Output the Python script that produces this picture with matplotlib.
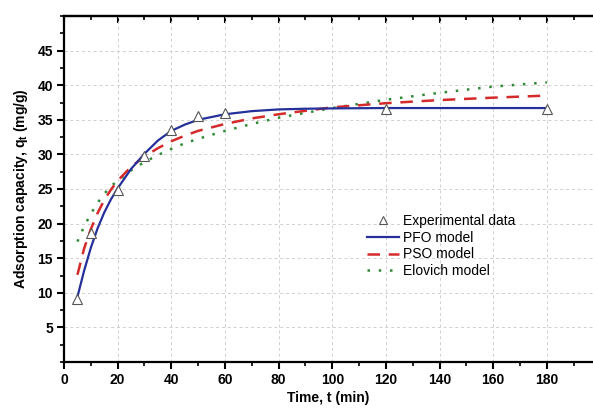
import matplotlib
matplotlib.use("Agg")
import matplotlib.pyplot as plt
from matplotlib.ticker import MultipleLocator, FixedLocator

# ---- data ----
t_exp = [5, 10, 20, 30, 40, 50, 60, 120, 180]
q_exp = [9.1, 18.6, 24.8, 29.8, 33.5, 35.5, 36.0, 36.6, 36.6]

t_model = [5, 7.5, 10, 12.5, 15, 17.5, 20, 25, 30, 35, 40, 45, 50, 60, 70, 80,
           90, 100, 120, 140, 160, 180]
q_pfo = [9.4, 13.2, 16.5, 19.3, 21.6, 23.5, 25.1, 27.9, 30.1, 32.0, 33.4, 34.3,
         35.0, 35.8, 36.25, 36.5, 36.6, 36.65, 36.7, 36.7, 36.7, 36.7]
q_pso = [12.6, 16.4, 19.2, 21.5, 23.4, 24.9, 26.2, 28.2, 29.7, 30.9, 31.9, 32.7,
         33.4, 34.4, 35.2, 35.8, 36.3, 36.8, 37.4, 37.85, 38.2, 38.5]
q_elo = [17.4, 19.6, 21.4, 23.0, 24.3, 25.4, 26.2, 27.7, 28.9, 29.9, 30.8, 31.6,
         32.25, 33.4, 34.4, 35.3, 36.0, 36.7, 37.9, 38.9, 39.8, 40.4]

labels = ["Experimental data", "PFO model", "PSO model", "Elovich model"]
x_major = [0, 20, 40, 60, 80, 100, 120, 140, 160, 180]
y_major = [5, 10, 15, 20, 25, 30, 35, 40, 45]

plt.rcParams['font.family'] = ['Liberation Sans', 'DejaVu Sans']
plt.rcParams['mathtext.fontset'] = 'custom'
plt.rcParams['mathtext.rm'] = 'Liberation Sans:bold'
plt.rcParams['mathtext.it'] = 'Liberation Sans:bold'
plt.rcParams['mathtext.bf'] = 'Liberation Sans:bold'

fig = plt.figure(figsize=(5.93, 4.08), dpi=100)
ax = fig.add_axes([64/593, 46/408, 1 - 64/593, (362-16)/408])

ax.plot(t_exp, q_exp, linestyle='none', marker='^', markersize=7,
        markerfacecolor='white', markeredgecolor='#555555', markeredgewidth=0.8,
        label=labels[0], zorder=5)
ax.plot(t_model, q_pfo, color='#25309a', lw=1.6, label=labels[1], zorder=4)
ax.plot(t_model, q_pso, color='#d42a2a', lw=1.8, linestyle=(0, (5, 3.5)),
        label=labels[2], zorder=3)
ax.plot(t_model, q_elo, color='#2f8a36', lw=1.8, linestyle=(0, (1, 3.5)),
        label=labels[3], zorder=2)

ax.set_xlim(0, 197.2)
ax.set_ylim(0, 50)
ax.xaxis.set_major_locator(FixedLocator(x_major))
ax.xaxis.set_minor_locator(MultipleLocator(10))
ax.yaxis.set_major_locator(FixedLocator(y_major))
ax.yaxis.set_minor_locator(MultipleLocator(2.5))

ax.grid(True, which='major', color='#cfcfcf', linestyle=(0, (3, 3)), lw=0.7)
ax.set_axisbelow(True)

for s in ['left', 'bottom', 'top']:
    ax.spines[s].set_linewidth(1.6)
ax.spines['right'].set_visible(False)

ax.tick_params(axis='both', which='major', direction='out', length=5, width=1.5,
               labelsize=10, pad=3)
ax.tick_params(axis='both', which='minor', direction='out', length=3, width=1.2)
for lab in ax.get_xticklabels() + ax.get_yticklabels():
    lab.set_fontweight('bold')

# inward ticks on the top spine
axt = ax.secondary_xaxis('top')
axt.xaxis.set_major_locator(FixedLocator(x_major))
axt.xaxis.set_minor_locator(MultipleLocator(10))
axt.tick_params(axis='x', which='major', direction='in', length=5, width=1.5,
                labeltop=False)
axt.tick_params(axis='x', which='minor', direction='in', length=3, width=1.2)
axt.spines['top'].set_linewidth(1.6)

ax.set_xlabel('Time, t (min)', fontsize=10, fontweight='bold', labelpad=3)
ax.set_ylabel(r'Adsorption capacity, q$_\mathrm{t}$ (mg/g)', fontsize=10,
              fontweight='bold', labelpad=5)

ax.legend(loc='upper left', bbox_to_anchor=(0.572, 0.428), frameon=False,
          fontsize=10, handlelength=2.3, handletextpad=0.3, labelspacing=0.2,
          borderaxespad=0, borderpad=0, markerscale=0.8)

fig.savefig('out.png', dpi=100)
